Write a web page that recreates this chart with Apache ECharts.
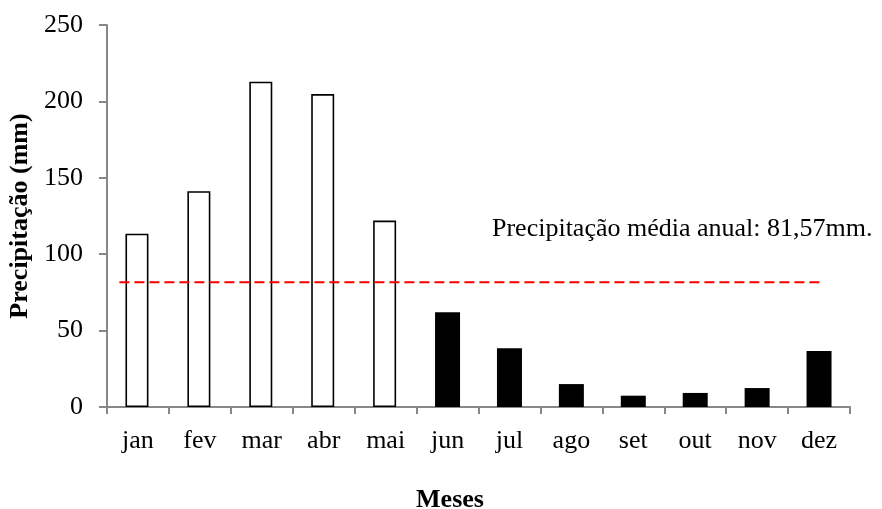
<!DOCTYPE html>
<html>
<head>
<meta charset="utf-8">
<script src="https://cdn.jsdelivr.net/npm/echarts@6/dist/echarts.min.js"></script>
<style>
  html, body { margin: 0; padding: 0; background: #ffffff; }
  #chart { width: 882px; height: 509px; }
</style>
</head>
<body>
<div id="chart"></div>
<script>
// Precipitação mensal (mm)
const meses = ['jan', 'fev', 'mar', 'abr', 'mai', 'jun', 'jul', 'ago', 'set', 'out', 'nov', 'dez'];
const precipitacao = [113.4, 141.2, 212.9, 204.8, 122.0, 62.0, 38.4, 15.0, 7.4, 9.2, 12.4, 36.6];
// Meses do período chuvoso (barras vazadas); os demais formam o período seco
const periodoChuvoso = ['jan', 'fev', 'mar', 'abr', 'mai'];
const mediaAnual = 81.57;
const yTicks = [0, 50, 100, 150, 200, 250];

const serif = '"Liberation Serif", "Times New Roman", serif';
const axisGray = '#878787';

const chuvoso = precipitacao.map((v, i) => periodoChuvoso.includes(meses[i]) ? v : null);
const seco = precipitacao.map((v, i) => periodoChuvoso.includes(meses[i]) ? null : v);
const mediaTexto = 'Precipitação média anual: ' + mediaAnual.toFixed(2).replace('.', ',') + 'mm.';

const chart = echarts.init(document.getElementById('chart'), null, { renderer: 'canvas' });

chart.setOption({
  animation: false,
  backgroundColor: '#ffffff',
  grid: { left: 107, right: 32, top: 25, bottom: 102, containLabel: false, outerBoundsMode: 'none' },
  xAxis: [
    {
      type: 'category',
      data: meses,
      boundaryGap: true,
      name: 'Meses',
      nameLocation: 'middle',
      nameGap: 80,
      nameTextStyle: { fontFamily: serif, fontSize: 26, fontWeight: 'bold', color: '#000', padding: [0, 57, 0, 0] },
      axisLine: { show: true, onZero: false, lineStyle: { color: axisGray, width: 2 } },
      axisTick: { show: true, alignWithLabel: false, length: 7, lineStyle: { color: axisGray, width: 2 } },
      axisLabel: { fontFamily: serif, fontSize: 26, color: '#000', margin: 21 },
      splitLine: { show: false }
    },
    {
      // eixo auxiliar contínuo para posicionar a linha da média
      type: 'value',
      min: -0.5,
      max: 11.5,
      show: false
    }
  ],
  yAxis: {
    type: 'value',
    min: yTicks[0],
    max: yTicks[yTicks.length - 1],
    interval: yTicks[1] - yTicks[0],
    name: 'Precipitação (mm)',
    nameLocation: 'middle',
    nameGap: 55,
    nameTextStyle: { fontFamily: serif, fontSize: 26, fontWeight: 'bold', color: '#000' },
    axisLine: { show: true, onZero: false, lineStyle: { color: axisGray, width: 2 } },
    axisTick: { show: true, length: 8, lineStyle: { color: axisGray, width: 2 } },
    axisLabel: { fontFamily: serif, fontSize: 26, color: '#000', margin: 24 },
    splitLine: { show: false }
  },
  series: [
    {
      name: 'Período chuvoso',
      type: 'bar',
      xAxisIndex: 0,
      data: chuvoso,
      barWidth: 23,
      barGap: '-100%',
      itemStyle: { color: '#ffffff', borderColor: '#000000', borderWidth: 1.6 }
    },
    {
      name: 'Período seco',
      type: 'bar',
      xAxisIndex: 0,
      data: seco,
      barWidth: 25,
      barGap: '-100%',
      itemStyle: { color: '#000000' }
    },
    {
      name: 'Média anual',
      type: 'line',
      xAxisIndex: 1,
      data: [[-0.3, mediaAnual], [11.05, mediaAnual]],
      symbol: 'none',
      silent: true,
      lineStyle: { color: '#ff0000', width: 2, type: [10, 5] }
    }
  ],
  graphic: [
    {
      type: 'text',
      left: 492,
      top: 216,
      style: {
        text: mediaTexto,
        fontFamily: serif,
        fontSize: 26,
        fill: '#000'
      }
    }
  ]
});
</script>
</body>
</html>
